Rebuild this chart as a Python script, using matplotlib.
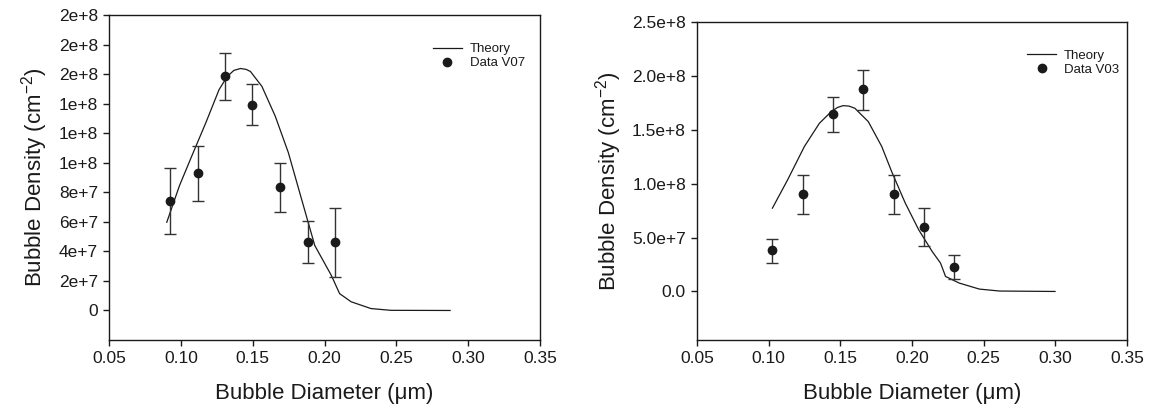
import matplotlib
matplotlib.use('Agg')
import matplotlib.pyplot as plt

plt.rcParams['font.family'] = ['Liberation Sans', 'DejaVu Sans']
plt.rcParams['mathtext.default'] = 'regular'

# left panel: V07
d07_x = [0.0923, 0.1116, 0.1307, 0.1498, 0.1691, 0.1882, 0.2072]
d07_y = [7.43e7, 9.29e7, 1.585e8, 1.394e8, 8.37e7, 4.65e7, 4.65e7]
d07_lo = [5.16e7, 7.41e7, 1.426e8, 1.253e8, 6.67e7, 3.21e7, 2.29e7]
d07_hi = [9.63e7, 1.116e8, 1.742e8, 1.531e8, 1.00e8, 6.04e7, 6.96e7]
th07_x = [0.0902, 0.0990, 0.1081, 0.1174, 0.1266, 0.1323, 0.1369, 0.1415,
          0.1454, 0.1484, 0.1564, 0.1657, 0.1748, 0.1840, 0.1886, 0.1932,
          0.2047, 0.2105, 0.2185, 0.2323, 0.2461, 0.2874]
th07_y = [5.97e7, 8.44e7, 1.057e8, 1.271e8, 1.495e8, 1.584e8, 1.625e8, 1.638e8,
          1.632e8, 1.618e8, 1.517e8, 1.315e8, 1.069e8, 7.54e7, 5.97e7, 4.40e7,
          2.38e7, 1.14e7, 5.9e6, 1.3e6, 1e5, 0.0]
y07_ticks = [0, 2e7, 4e7, 6e7, 8e7, 1e8, 1.2e8, 1.4e8, 1.6e8, 1.8e8, 2e8]
y07_labels = ['0', '2e+7', '4e+7', '6e+7', '8e+7', '1e+8', '1e+8', '1e+8',
              '2e+8', '2e+8', '2e+8']

# right panel: V03
d03_x = [0.1023, 0.1237, 0.1449, 0.1660, 0.1871, 0.2085, 0.2296]
d03_y = [3.80e7, 9.05e7, 1.645e8, 1.874e8, 9.05e7, 6.02e7, 2.29e7]
d03_lo = [2.63e7, 7.19e7, 1.476e8, 1.685e8, 7.19e7, 4.17e7, 1.11e7]
d03_hi = [4.85e7, 1.078e8, 1.806e8, 2.056e8, 1.078e8, 7.78e7, 3.37e7]
th03_x = [0.1026, 0.1132, 0.1249, 0.1354, 0.1437, 0.1480, 0.1519, 0.1560,
          0.1601, 0.1695, 0.1789, 0.1859, 0.1953, 0.2047, 0.2141, 0.2199,
          0.2234, 0.2329, 0.2470, 0.2611, 0.2998]
th03_y = [7.72e7, 1.034e8, 1.343e8, 1.559e8, 1.667e8, 1.705e8, 1.722e8, 1.718e8,
          1.698e8, 1.574e8, 1.343e8, 1.108e8, 8.19e7, 5.71e7, 3.70e7, 2.63e7,
          1.39e7, 7.8e6, 2.2e6, 4e5, 0.0]
y03_ticks = [0, 5e7, 1e8, 1.5e8, 2e8, 2.5e8]
y03_labels = ['0.0', '5.0e+7', '1.0e+8', '1.5e+8', '2.0e+8', '2.5e+8']

x_ticks = [0.05, 0.10, 0.15, 0.20, 0.25, 0.30, 0.35]
x_labels = ['0.05', '0.10', '0.15', '0.20', '0.25', '0.30', '0.35']

ink = '#1a1a1a'

fig = plt.figure(figsize=(11.5, 4.11), dpi=100)
ax1 = fig.add_axes([0.0948, 0.1727, 0.3748, 0.7908])
ax2 = fig.add_axes([0.6061, 0.1727, 0.3739, 0.7745])

panels = [
    (ax1, th07_x, th07_y, d07_x, d07_y, d07_lo, d07_hi, 'Data V07',
     (-2e7, 2e8), y07_ticks, y07_labels, (0.965, 0.914)),
    (ax2, th03_x, th03_y, d03_x, d03_y, d03_lo, d03_hi, 'Data V03',
     (-4.5e7, 2.5e8), y03_ticks, y03_labels, (0.982, 0.913)),
]

for ax, tx, ty, dx, dy, lo, hi, name, ylim, yt, yl, anchor in panels:
    ax.plot(tx, ty, color=ink, lw=0.9, label='Theory')
    err = [[y - l for y, l in zip(dy, lo)], [h - y for y, h in zip(dy, hi)]]
    ax.errorbar(dx, dy, yerr=err, fmt='none', ecolor='#333333',
                elinewidth=1.0, capsize=4, capthick=1.0)
    ax.plot(dx, dy, 'o', color=ink, ms=6, label=name)
    ax.set_xlim(0.05, 0.35)
    ax.set_ylim(*ylim)
    ax.set_xticks(x_ticks)
    ax.set_xticklabels(x_labels)
    ax.set_yticks(yt)
    ax.set_yticklabels(yl)
    ax.tick_params(direction='out', length=4, width=1, labelsize=12.5,
                   color=ink, labelcolor=ink, pad=4)
    for s in ax.spines.values():
        s.set_color(ink)
        s.set_linewidth(1.0)
    ax.set_xlabel('Bubble Diameter (\u03bcm)', fontsize=16, color=ink, labelpad=12)
    ax.set_ylabel('Bubble Density (cm$^{-2}$)', fontsize=16, color=ink, labelpad=6)
    ax.legend(loc='upper right', bbox_to_anchor=anchor, frameon=False,
              fontsize=9.5, borderpad=0, borderaxespad=0, handlelength=2.2,
              handletextpad=0.6, labelspacing=0.15, labelcolor=ink)

fig.savefig('out.png', dpi=100)
